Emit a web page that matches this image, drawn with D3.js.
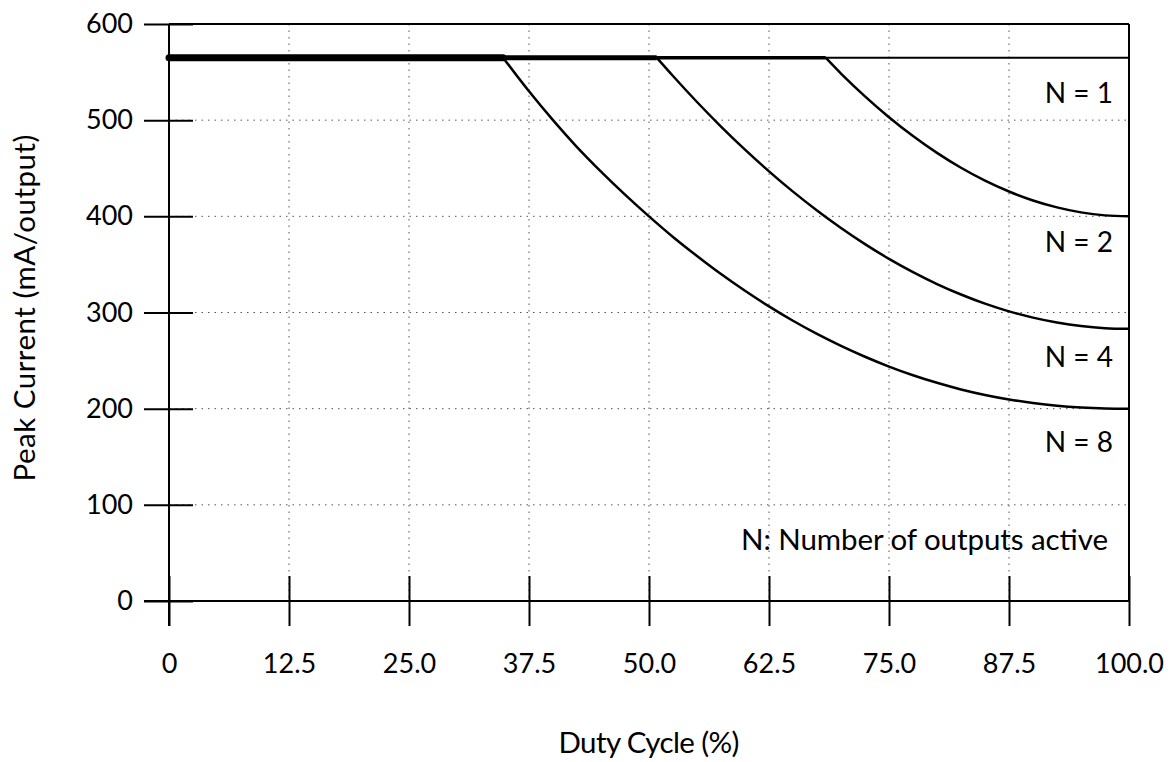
<!DOCTYPE html>
<html><head><meta charset="utf-8">
<script src="https://cdn.jsdelivr.net/npm/d3@7"></script>
<style>
body{margin:0;background:#fff}
svg{display:block}
text{font-family:Lato,"Open Sans",sans-serif;fill:#000}
</style>
</head><body>
<svg id="chart" width="1172" height="762"></svg>
<script>
// ---- data ----
const xTicks = [0, 12.5, 25, 37.5, 50, 62.5, 75, 87.5, 100];
const xTickLabels = ["0", "12.5", "25.0", "37.5", "50.0", "62.5", "75.0", "87.5", "100.0"];
const yTicks = [0, 100, 200, 300, 400, 500, 600];
const yTickLabels = ["0", "100", "200", "300", "400", "500", "600"];
const seriesNames = ["N = 1", "N = 2", "N = 4", "N = 8"];

const dutyN1 = [0, 100];
const currentN1 = [565, 565];

const dutyN2 = [0, 68.4, 70, 72.5, 75, 77.5, 80, 82.5, 85, 87.5, 90, 92.5, 95, 97.5, 100];
const currentN2 = [565, 565, 548.5, 524.8, 503.1, 483.5, 466, 450.5, 437.1, 425.8, 416.5, 409.3, 404.1, 401, 400];

const dutyN4 = [0, 50.8, 52.5, 55, 57.5, 60, 62.5, 65, 67.5, 70, 72.5, 75, 77.5, 80, 82.5, 85, 87.5, 90, 92.5, 95, 97.5, 100];
const currentN4 = [565, 565, 545.9, 518.9, 493.4, 469.4, 446.8, 425.7, 406.1, 387.9, 371.1, 355.8, 342, 329.6, 318.7, 309.2, 301.2, 294.7, 289.6, 285.9, 283.7, 283];

const dutyN8 = [0, 34.8, 37.5, 40, 42.5, 45, 47.5, 50, 52.5, 55, 57.5, 60, 62.5, 65, 67.5, 70, 72.5, 75, 77.5, 80, 82.5, 85, 87.5, 90, 92.5, 95, 97.5, 100];
const currentN8 = [565, 565, 530, 500, 472, 446.5, 422.6, 400, 378.6, 358.8, 340, 322.6, 306.4, 291.4, 277.7, 265.3, 254, 243.8, 234.8, 226.9, 220, 214.3, 209.6, 205.9, 203.1, 201.3, 200.3, 200];

const legendNote = "N: Number of outputs active";
const xTitle = "Duty Cycle (%)";
const yTitle = "Peak Current (mA/output)";

// ---- layout ----
const svg = d3.select("#chart");
const x = d3.scaleLinear().domain([0, 100]).range([169, 1129]);
const y = d3.scaleLinear().domain([0, 600]).range([601, 24]);
const FS_TICK = 27;
const FS_TEXT = 29.5;

// grid
const g = svg.append("g");
g.selectAll(".vg").data(xTicks.filter(d => d > 0 && d < 100)).join("line")
  .attr("x1", d => x(d)).attr("x2", d => x(d)).attr("y1", y(600)).attr("y2", y(0))
  .attr("stroke", "#555").attr("stroke-width", 1).attr("stroke-dasharray", "1.5,5");
g.selectAll(".hg").data(yTicks.filter(d => d > 0 && d < 600)).join("line")
  .attr("x1", x(0)).attr("x2", x(100)).attr("y1", d => y(d)).attr("y2", d => y(d))
  .attr("stroke", "#555").attr("stroke-width", 1).attr("stroke-dasharray", "1.5,5");

// frame top & right
svg.append("line").attr("x1", x(0)).attr("x2", x(100)).attr("y1", y(600)).attr("y2", y(600))
  .attr("stroke", "#000").attr("stroke-width", 2);
svg.append("line").attr("x1", x(100)).attr("x2", x(100)).attr("y1", y(600)).attr("y2", y(0))
  .attr("stroke", "#000").attr("stroke-width", 2);

// axes
const yAxis = d3.axisLeft(y).tickValues(yTicks).tickFormat((d, i) => yTickLabels[i]).tickSize(25).tickPadding(11);
const ya = svg.append("g").attr("transform", `translate(${x(0)},0)`).call(yAxis);
ya.select(".domain").remove();
ya.selectAll(".tick line").attr("x1", -25).attr("x2", 24).attr("stroke", "#000").attr("stroke-width", 2);
ya.selectAll(".tick text").attr("font-size", FS_TICK).attr("font-family", "Lato").attr("fill", "#000");
svg.append("line").attr("x1", x(0)).attr("x2", x(0)).attr("y1", y(600)).attr("y2", y(0) + 25)
  .attr("stroke", "#000").attr("stroke-width", 2);

const xAxis = d3.axisBottom(x).tickValues(xTicks).tickFormat((d, i) => xTickLabels[i]).tickSize(25).tickPadding(28);
const xa = svg.append("g").attr("transform", `translate(0,${y(0)})`).call(xAxis);
xa.select(".domain").remove();
xa.selectAll(".tick line").attr("y1", -25).attr("y2", 25).attr("stroke", "#000").attr("stroke-width", 2);
xa.selectAll(".tick text").attr("font-size", FS_TICK).attr("font-family", "Lato").attr("fill", "#000");
svg.append("line").attr("x1", x(0) - 25).attr("x2", x(100)).attr("y1", y(0)).attr("y2", y(0))
  .attr("stroke", "#000").attr("stroke-width", 2);

// series
const allSeries = [
  {name: seriesNames[0], duty: dutyN1, cur: currentN1, flatW: 2},
  {name: seriesNames[1], duty: dutyN2, cur: currentN2, flatW: 3.5},
  {name: seriesNames[2], duty: dutyN4, cur: currentN4, flatW: 5},
  {name: seriesNames[3], duty: dutyN8, cur: currentN8, flatW: 7}
];
const lineLin = d3.line().x(d => x(d[0])).y(d => y(d[1]));
const lineCurve = d3.line().x(d => x(d[0])).y(d => y(d[1])).curve(d3.curveMonotoneX);
const maxCur = d3.max(currentN1);
allSeries.forEach(s => {
  const pts = s.duty.map((d, i) => [d, s.cur[i]]);
  const flat = pts.filter(p => p[1] === maxCur);
  const breakIdx = flat.length - 1;
  const curve = pts.slice(breakIdx);
  svg.append("path").attr("d", lineLin(flat)).attr("fill", "none").attr("stroke", "#000")
    .attr("stroke-width", s.flatW).attr("stroke-linecap", s.flatW > 6 ? "round" : "butt");
  if (curve.length > 1) {
    svg.append("path").attr("d", lineCurve(curve)).attr("fill", "none").attr("stroke", "#000")
      .attr("stroke-width", 2.5).attr("stroke-linejoin", "round");
  }
});

// labels
const labelY = [518, 363, 243, 155]; // values at label baselines
seriesNames.forEach((n, i) => {
  svg.append("text").attr("x", x(100) - 16).attr("y", y(labelY[i]))
    .attr("text-anchor", "end").attr("font-size", 28).text(n);
});
svg.append("text").attr("x", x(100) - 21).attr("y", y(53))
  .attr("text-anchor", "end").attr("font-size", FS_TEXT)
  .attr("textLength", 367).text(legendNote);

// titles
svg.append("text").attr("x", (x(0) + x(100)) / 2).attr("y", 753)
  .attr("text-anchor", "middle").attr("font-size", FS_TEXT)
  .attr("textLength", 181).text(xTitle);
svg.append("text").attr("transform", "translate(35,308) rotate(-90)")
  .attr("text-anchor", "middle").attr("font-size", FS_TEXT)
  .attr("textLength", 347).text(yTitle);
</script>
</body></html>
